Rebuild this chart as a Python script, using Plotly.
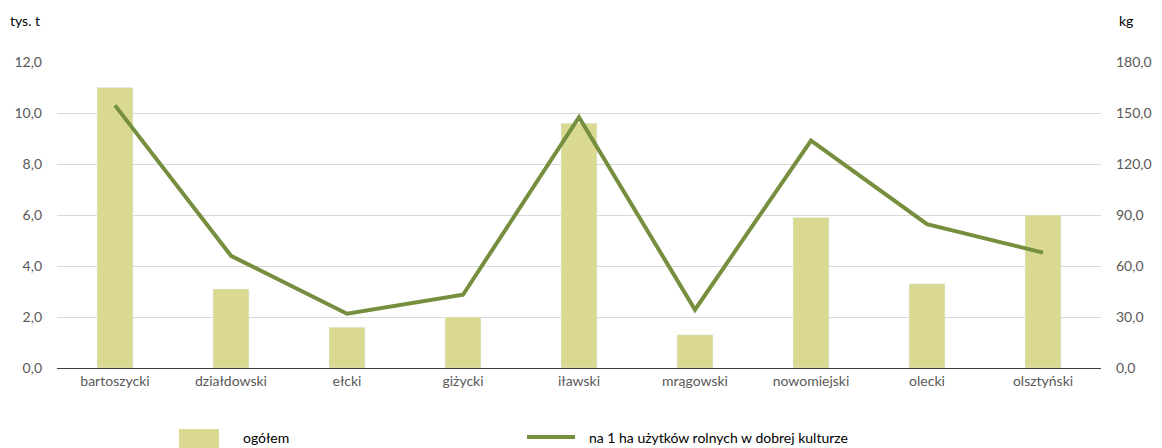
import plotly.graph_objects as go

categories = ["bartoszycki", "działdowski", "ełcki", "giżycki", "iławski",
              "mrągowski", "nowomiejski", "olecki", "olsztyński"]
ogolem = [11.0, 3.1, 1.6, 2.0, 9.6, 1.3, 5.9, 3.3, 6.0]
na_1_ha = [154.5, 66.0, 31.9, 43.1, 147.5, 34.3, 133.8, 84.6, 67.9]
left_ticks = [0, 2, 4, 6, 8, 10, 12]
right_ticks = [0, 30, 60, 90, 120, 150, 180]

BAR = "#D9D991"
LINE = "#758F3F"
FONT = "Lato, Carlito, 'Open Sans', sans-serif"
TICK = "#595959"

fig = go.Figure()
fig.add_trace(go.Bar(x=categories, y=ogolem, name="ogółem", marker_color=BAR,
                     width=0.31, yaxis="y"))
fig.add_trace(go.Scatter(x=categories, y=na_1_ha, name="na 1 ha użytków rolnych w dobrej kulturze",
                         mode="lines", line=dict(color=LINE, width=4), yaxis="y2"))

O = 8  # page body margin
W, H = 1162 - O, 448 - O
L, T = 57 - O, 62 - O
R = 1162 - 1101
B = 448 - 368
pw, ph = W - L - R, H - T - B

def px(x):
    return (x - O - L) / pw

def py(y):
    return (H - B - (y - O)) / ph

fig.update_layout(
    width=W, height=H,
    margin=dict(l=L, r=R, t=T, b=B, autoexpand=False),
    paper_bgcolor="white", plot_bgcolor="white",
    showlegend=False,
    font=dict(family=FONT, size=14, color=TICK),
    xaxis=dict(showgrid=False, showline=True, linecolor="#404040", linewidth=1,
               ticks="", tickfont=dict(size=14, color=TICK), automargin=False),
    yaxis=dict(range=[0, 12], tickvals=left_ticks,
               ticktext=[f"{v:.1f}".replace(".", ",") for v in left_ticks],
               showgrid=True, gridcolor="#D9D9D9", gridwidth=1, zeroline=False,
               tickfont=dict(size=14, color=TICK), ticklabelstandoff=14,
               automargin=False),
    yaxis2=dict(range=[0, 180], tickvals=right_ticks, overlaying="y", side="right",
                ticktext=[f"{v:.1f}".replace(".", ",") for v in right_ticks],
                showgrid=False, zeroline=False,
                tickfont=dict(size=14, color=TICK), ticklabelstandoff=14,
                automargin=False),
)

ann = [
    dict(text="tys. t", x=px(8), y=py(20), xanchor="left", yanchor="middle"),
    dict(text="kg", x=px(1117), y=py(20), xanchor="left", yanchor="middle"),
    dict(text="ogółem", x=px(241), y=py(437), xanchor="left", yanchor="middle"),
    dict(text="na 1 ha użytków rolnych w dobrej kulturze", x=px(587), y=py(437),
         xanchor="left", yanchor="middle"),
]
for a in ann:
    fig.add_annotation(xref="paper", yref="paper", showarrow=False,
                       font=dict(family=FONT, size=14, color="#000000"), **a)

fig.add_shape(type="rect", xref="paper", yref="paper",
              x0=px(179), x1=px(219), y0=py(448), y1=py(429),
              fillcolor=BAR, line=dict(width=0))
fig.add_shape(type="line", xref="paper", yref="paper",
              x0=px(527), x1=px(575), y0=py(437), y1=py(437),
              line=dict(color=LINE, width=4))

fig.write_html("out.html")
